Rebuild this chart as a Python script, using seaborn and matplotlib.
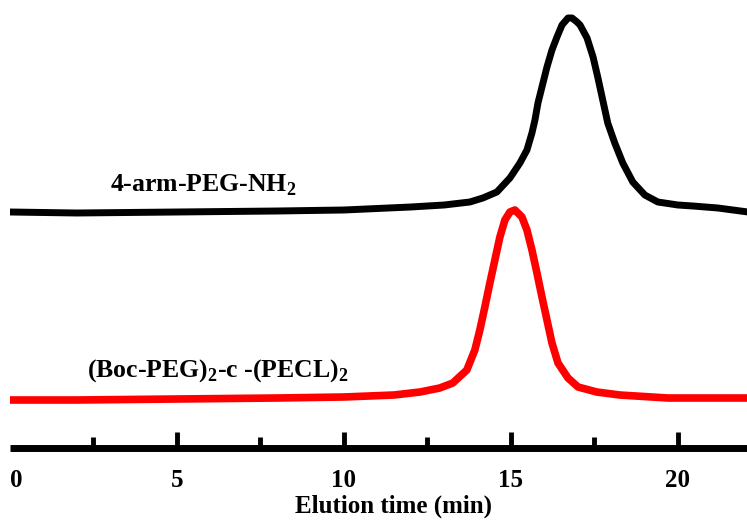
import numpy as np
import pandas as pd
import matplotlib
matplotlib.use("Agg")
import matplotlib.pyplot as plt
import seaborn as sns

# GPC traces (time in min, signal in arbitrary units)
peg_time = [0.0, 2.0, 5.0, 8.0, 10.0, 12.0, 13.0, 13.77, 14.16, 14.58, 14.97,
            15.27, 15.48, 15.63, 15.72, 15.81, 15.93, 16.08, 16.23, 16.38,
            16.53, 16.71, 16.83, 16.98, 17.07, 17.28, 17.46, 17.60, 17.75,
            17.90, 18.11, 18.35, 18.65, 19.01, 19.40, 20.0, 20.45, 21.2, 22.1]
peg_signal = [236, 235, 236, 237, 238, 241, 243, 246, 250, 256, 270,
              285, 298, 315, 328, 345, 361, 381, 398, 411,
              423, 430, 430, 426, 423, 410, 391, 371, 348,
              325, 305, 285, 266, 253, 246, 243, 242, 240, 236]

pecl_time = [0.0, 2.0, 5.0, 8.0, 10.0, 11.5, 12.28, 12.87, 13.26, 13.68, 13.92,
             14.07, 14.22, 14.37, 14.52, 14.67, 14.82, 14.97, 15.12, 15.33,
             15.48, 15.63, 15.78, 15.93, 16.08, 16.23, 16.41, 16.71, 17.01,
             17.57, 18.26, 19.7, 22.1]
pecl_signal = [48, 48, 49, 50, 51, 53, 56, 60, 65, 78, 98,
               118, 141, 165, 188, 211, 228, 236, 238, 231,
               218, 198, 175, 151, 128, 105, 85, 70, 61,
               56, 53, 50, 50]

peg_label = r"4-arm-PEG-NH$_\mathbf{2}$"
pecl_label = r"(Boc-PEG)$_\mathbf{2}$-c -(PECL)$_\mathbf{2}$"
major_ticks = [0, 5, 10, 15, 20]
minor_ticks = [2.5, 7.5, 12.5, 17.5]

sns.set_style("white")
plt.rcParams['font.family'] = ['Liberation Serif', 'DejaVu Serif']
plt.rcParams['font.weight'] = 'bold'
plt.rcParams['text.color'] = 'black'
plt.rcParams['axes.labelcolor'] = 'black'
plt.rcParams['xtick.color'] = 'black'
plt.rcParams['mathtext.fontset'] = 'custom'
plt.rcParams['mathtext.rm'] = 'Liberation Serif:bold'
plt.rcParams['mathtext.bf'] = 'Liberation Serif:bold'

peg = pd.DataFrame({'time': peg_time, 'signal': peg_signal})
pecl = pd.DataFrame({'time': pecl_time, 'signal': pecl_signal})

fig = plt.figure(figsize=(7.47, 5.22), dpi=100)
ax = fig.add_axes([10 / 747, 74 / 522, 737 / 747, 448 / 522])

sns.lineplot(data=peg, x='time', y='signal', color='black', linewidth=5,
             sort=False, estimator=None, ax=ax)
sns.lineplot(data=pecl, x='time', y='signal', color='#ff0000', linewidth=5.5,
             sort=False, estimator=None, ax=ax)

ax.text(2.98, 257, peg_label, fontsize=18.5, fontweight='bold', va='baseline')
ax.text(2.3, 71, pecl_label, fontsize=18.5, fontweight='bold', va='baseline')

ax.set_xlim(0, 22.07)
ax.set_ylim(0, 448)
ax.set_yticks([])
ax.set_ylabel('')
ax.set_xticks(major_ticks)
ax.set_xticks(minor_ticks, minor=True)
ax.set_xticklabels([str(t) for t in major_ticks], fontsize=18, fontweight='bold')
ax.tick_params(axis='x', which='both', bottom=True, top=False)
ax.tick_params(axis='x', which='major', direction='in', length=11.5, width=3.5,
               pad=15, color='black')
ax.tick_params(axis='x', which='minor', direction='in', length=8, width=3.5,
               color='black')
# no tick mark at 0, and its label sits just right of the axis start
ax.xaxis.get_major_ticks()[0].tick1line.set_visible(False)
ax.get_xticklabels()[0].set_horizontalalignment('left')
ax.set_xlabel('Elution time (min)', fontsize=18, fontweight='bold', labelpad=2)
ax.xaxis.label.set_x((394 - 10) / 737)

for side in ['left', 'right', 'top']:
    ax.spines[side].set_visible(False)
ax.spines['bottom'].set_linewidth(5)
ax.spines['bottom'].set_color('black')
ax.spines['bottom'].set_capstyle('butt')
ax.patch.set_alpha(0)

fig.savefig('out.png', dpi=100)
